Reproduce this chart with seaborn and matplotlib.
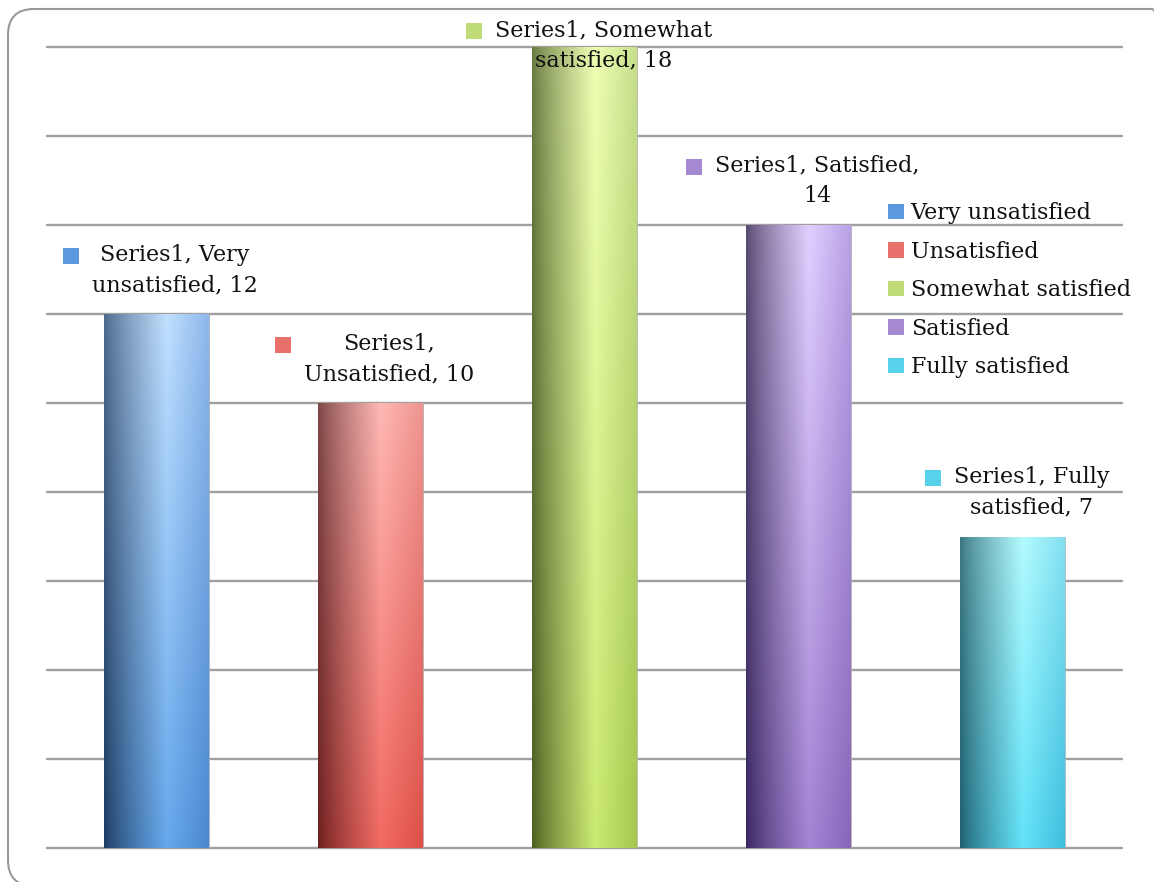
import numpy as np
import pandas as pd
import matplotlib
matplotlib.use("Agg")
import matplotlib.pyplot as plt
from matplotlib.patches import Patch, FancyBboxPatch
from matplotlib.transforms import IdentityTransform
from matplotlib.colors import to_rgb
import seaborn as sns

# ---- data ----
categories = ["Very unsatisfied", "Unsatisfied", "Somewhat satisfied", "Satisfied", "Fully satisfied"]
values = [12, 10, 18, 14, 7]
series_name = "Series1"
label_breaks = [
    ("Series1, Very", "unsatisfied, 12"),
    ("Series1,", "Unsatisfied, 10"),
    ("Series1, Somewhat", "satisfied, 18"),
    ("Series1, Satisfied,", "14"),
    ("Series1, Fully", "satisfied, 7"),
]
y_ticks = list(range(0, 19, 2))

# ---- styles ----
base_colors = ["#5a98e0", "#e8706a", "#c0dc78", "#a488d2", "#58d2ea"]
top_stops = [
    ("#4a6688", "#c0e0ff", "#8eb6ea"),
    ("#7a4444", "#ffb8b4", "#ee9490"),
    ("#66783e", "#eeffb4", "#c6de8c"),
    ("#564870", "#e0d0ff", "#b8a0e6"),
    ("#3a7680", "#b4fbff", "#82e0f0"),
]
bot_stops = [
    ("#1c3a60", "#66a8ec", "#4a88d0"),
    ("#6a1e1e", "#f26a62", "#dc5048"),
    ("#4a5e20", "#cbea72", "#a6c64e"),
    ("#382660", "#a484d4", "#8666b8"),
    ("#1e5e70", "#62e2f8", "#3ebede"),
]

sns.set_theme(style="white")
plt.rcParams["font.family"] = ["DejaVu Serif"]
FS = 16

W, H = 1154, 882
fig = plt.figure(figsize=(W / 100, H / 100), dpi=100)
ax = fig.add_axes([47 / W, 34 / H, (1122 - 47) / W, (848 - 47) / H])

df = pd.DataFrame({"category": categories, "value": values})
sns.barplot(data=df, x="category", y="value", hue="category", palette=base_colors,
            width=0.49, legend=False, ax=ax, zorder=2, saturation=1)

ax.set_ylim(0, 18)
ax.set_xlim(-0.51, 4.51)
ax.set_yticks(y_ticks)
ax.yaxis.grid(True, color="#a0a0a0", linewidth=1.7, zorder=0)
ax.set_axisbelow(True)
for gl in ax.get_ygridlines():
    gl.set_clip_on(False)
for s in ax.spines.values():
    s.set_visible(False)
ax.set_xticks([])
ax.set_yticklabels([])
ax.tick_params(left=False, bottom=False)
ax.set_xlabel("")
ax.set_ylabel("")

# gradient fill
def hprofile(stops, n=200):
    xs = np.linspace(0, 1, n)
    c0, c1, c2 = [np.array(to_rgb(c)) for c in stops]
    out = np.zeros((n, 3))
    for i, x in enumerate(xs):
        if x <= 0.6:
            t = (x / 0.6) ** 0.8
            out[i] = c0 * (1 - t) + c1 * t
        else:
            t = (x - 0.6) / 0.4
            out[i] = c1 * (1 - t) + c2 * t
    return out

for i, p in enumerate(ax.patches[:len(values)]):
    x0, y0 = p.get_x(), p.get_y()
    w, h = p.get_width(), p.get_height()
    top = hprofile(top_stops[i])
    bot = hprofile(bot_stops[i])
    ny = 100
    tv = np.linspace(0, 1, ny)[:, None, None]
    img = top[None, :, :] * (1 - tv) + bot[None, :, :] * tv  # row 0 = top
    im = ax.imshow(img, extent=(x0, x0 + w, y0, y0 + h), origin="upper",
                   aspect="auto", zorder=3, interpolation="bilinear")
    im.set_clip_path(p)
    p.set_edgecolor("#b0b0b0")
    p.set_linewidth(0.5)
ax.set_xlim(-0.51, 4.51)
ax.set_ylim(0, 18)

# data labels
anns = []
for i, (v, lines) in enumerate(zip(values, label_breaks)):
    a = ax.annotate("\n".join(lines), xy=(i, v), xytext=(19, 44),
                    textcoords="offset pixels", ha="center", va="center",
                    fontsize=FS, color="#111111", linespacing=1.5, zorder=5)
    anns.append(a)

fig.canvas.draw()
r = fig.canvas.get_renderer()
# keep labels inside the figure (push down if they would be cut off)
for a in anns:
    bb = a.get_window_extent(r)
    limit = H - 19
    if bb.y1 > limit:
        dx, dy = a.xyann
        a.xyann = (dx, dy - (bb.y1 - limit))
fig.canvas.draw()

inv = ax.transData.inverted()
for i, a in enumerate(anns):
    bb = a.get_window_extent(r)
    px, py = bb.x0 - 21, bb.y1 - 12
    dx, dy = inv.transform((px, py))
    ax.plot([dx], [dy], marker="s", markersize=11, color=base_colors[i],
            markeredgewidth=0, zorder=6, clip_on=False)

# legend
handles = [Patch(facecolor=c, edgecolor="none") for c in base_colors]
leg = fig.legend(handles, categories, loc="upper left",
                 bbox_to_anchor=(884 / W, 1 - 198 / H), frameon=False,
                 fontsize=FS, handlelength=0.7, handleheight=0.7,
                 handletextpad=0.3, labelspacing=0.74, borderaxespad=0,
                 borderpad=0.2)
for t in leg.get_texts():
    t.set_color("#111111")

# outer rounded frame (pixel coordinates)
frame = FancyBboxPatch((8, H - 886), 1170, 886 - 9,
                       boxstyle="round,pad=0,rounding_size=26",
                       transform=IdentityTransform(), facecolor="none",
                       edgecolor="#999999", linewidth=1.5, zorder=10)
fig.patches.append(frame)

fig.savefig("out.png", dpi=100)
